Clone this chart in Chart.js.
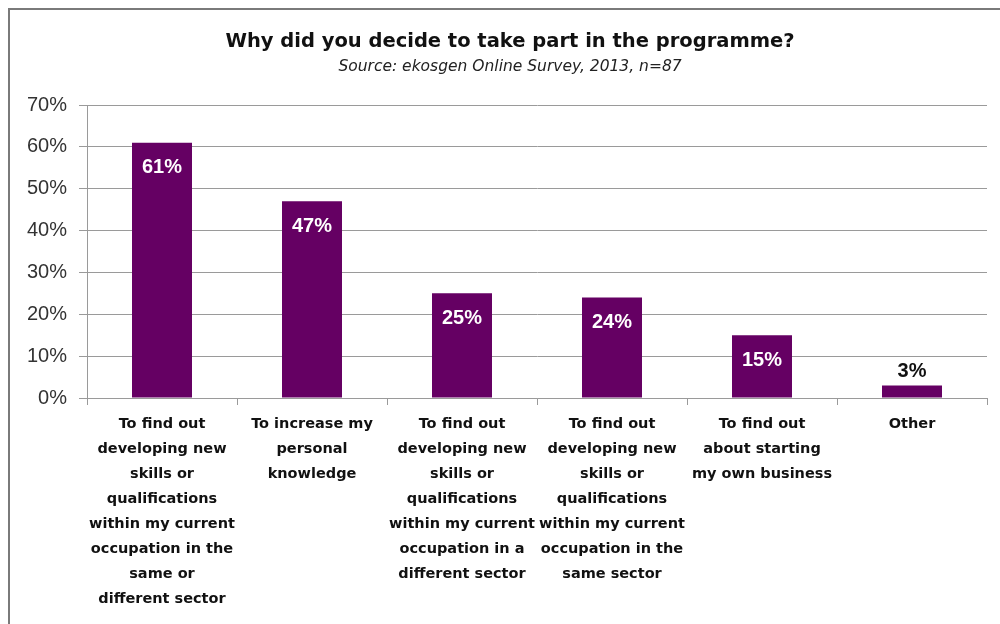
<!DOCTYPE html>
<html>
<head>
<meta charset="utf-8">
<script src="https://cdn.jsdelivr.net/npm/chart.js@4"></script>
<style>
  html, body { margin: 0; padding: 0; background: #fff; }
  #wrap { position: relative; width: 1000px; height: 624px; overflow: hidden; }
  #frame { position: absolute; left: 8px; top: 8px; width: 1100px; height: 700px;
           border-left: 2px solid #7a7a7a; border-top: 2px solid #7a7a7a; }
  canvas { position: absolute; left: 0; top: 0; }
</style>
</head>
<body>
<div id="wrap">
  <div id="frame"></div>
  <canvas id="c" width="1000" height="624"></canvas>
</div>
<script>
// Survey responses: share of respondents citing each reason
const categories = [
  ["To find out", "developing new", "skills or", "qualifications", "within my current", "occupation in the", "same or", "different sector"],
  ["To increase my", "personal", "knowledge"],
  ["To find out", "developing new", "skills or", "qualifications", "within my current", "occupation in a", "different sector"],
  ["To find out", "developing new", "skills or", "qualifications", "within my current", "occupation in the", "same sector"],
  ["To find out", "about starting", "my own business"],
  ["Other"]
];
const shares = [61, 47, 25, 24, 15, 3];
const yTicks = [0, 10, 20, 30, 40, 50, 60, 70];

const chartTitle = "Why did you decide to take part in the programme?";
const chartSource = "Source: ekosgen Online Survey, 2013, n=87";

const PURPLE = "#650063";
const GRID = "#9a9a9a";

// Heading and source line drawn centred over the framed panel
const headingPlugin = {
  id: "heading",
  afterDraw(chart) {
    const ctx = chart.ctx;
    ctx.save();
    ctx.textAlign = "center";
    ctx.textBaseline = "middle";
    ctx.fillStyle = "#111";
    ctx.font = "bold 19.5px 'DejaVu Sans'";
    ctx.fillText(chartTitle, 510, 42);
    ctx.font = "oblique 15.5px 'DejaVu Sans'";
    ctx.fillStyle = "#222";
    ctx.fillText(chartSource, 510, 67);
    ctx.restore();
  }
};

// Percentage labels: white inside tall bars, dark above short ones
const valueLabels = {
  id: "valueLabels",
  afterDatasetsDraw(chart) {
    const ctx = chart.ctx;
    const meta = chart.getDatasetMeta(0);
    ctx.save();
    ctx.textAlign = "center";
    ctx.textBaseline = "middle";
    ctx.font = "bold 20px 'Liberation Sans'";
    meta.data.forEach((bar, i) => {
      const v = shares[i];
      const h = bar.base - bar.y;
      if (h > 40) {
        ctx.fillStyle = "#ffffff";
        ctx.fillText(v + "%", bar.x, bar.y + 25);
      } else {
        ctx.fillStyle = "#111";
        ctx.fillText(v + "%", bar.x, bar.y - 14);
      }
    });
    ctx.restore();
  }
};

new Chart(document.getElementById("c"), {
  type: "bar",
  data: {
    labels: categories,
    datasets: [{
      data: shares,
      backgroundColor: PURPLE,
      borderWidth: 0,
      barPercentage: 0.4,
      categoryPercentage: 1.0
    }]
  },
  options: {
    responsive: false,
    animation: false,
    layout: { padding: { top: 105, right: 13, left: 0, bottom: 0 } },
    plugins: {
      legend: { display: false },
      tooltip: { enabled: false },
      title: { display: false }
    },
    scales: {
      x: {
        offset: true,
        grid: {
          offset: true,
          drawOnChartArea: false,
          drawTicks: true,
          tickLength: 7,
          color: GRID
        },
        border: { color: GRID },
        ticks: {
          maxRotation: 0,
          minRotation: 0,
          autoSkip: false,
          padding: 7,
          color: "#111",
          font: { family: "DejaVu Sans", weight: "bold", size: 14.5, lineHeight: 1.72 }
        },
        afterFit(scale) { scale.height = 226; }
      },
      y: {
        min: 0,
        max: 70,
        afterBuildTicks(scale) { scale.ticks = yTicks.map(v => ({ value: v })); },
        grid: {
          color: GRID,
          tickLength: 8
        },
        border: { color: GRID },
        ticks: {
          padding: 12,
          color: "#333",
          font: { family: "Liberation Sans", size: 20 },
          callback: v => v + "%"
        },
        afterFit(scale) { scale.width = 87; }
      }
    }
  },
  plugins: [headingPlugin, valueLabels]
});
</script>
</body>
</html>
